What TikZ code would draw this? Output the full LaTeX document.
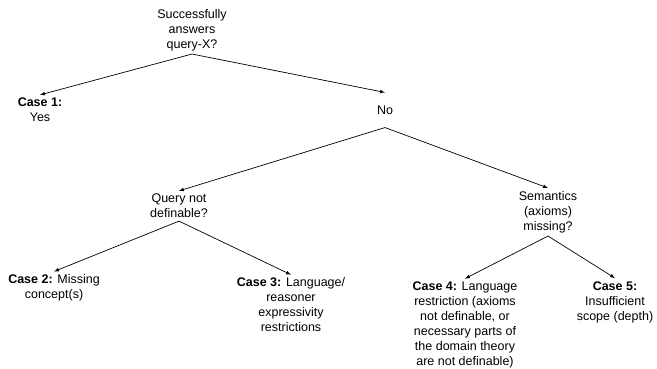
\documentclass[tikz,border=0pt]{standalone}
\usepackage{fontspec}
\setmainfont{Liberation Sans}
\usepackage{tikz}
\usetikzlibrary{
  arrows,
  positioning
}
\tikzset{>=latex}
\tikzset{font=\fontsize{12.5}{15}\selectfont}
\tikzset{question/.style={align=center, inner sep=3pt},
  casebox/.style={align=center, inner sep=3pt},
  branch/.style={->, line width=0.7pt}}

\begin{document}
\begin{tikzpicture}[x=1pt, y=-1pt]
          \useasboundingbox (0,0) rectangle (657,368);
          % questions
          \node[question] (root) at (192,30) {Successfully\\answers\\query-X?};
          \node[question, inner ysep=13pt] (no) at (385,110) {No};
          \node[question] (query) at (179,206) {Query not\\definable?};
          \node[question] (sem) at (548,212) {Semantics\\(axioms)\\missing?};
          % cases
          \node[casebox] (case1) at (40,110) {\textbf{Case 1:}\\Yes};
          \node[casebox] (case2) at (54,288) {\textbf{Case 2:} Missing\\concept(s)};
          \node[casebox] (case3) at (291,305) {\textbf{Case 3:} Language/\\reasoner\\expressivity\\restrictions};
          \node[casebox] (case4) at (465,325) {\textbf{Case 4:} Language\\restriction (axioms\\not definable, or\\necessary parts of\\the domain theory\\are not definable)};
          \node[casebox] (case5) at (615,302) {\textbf{Case 5:}\\Insufficient\\scope (depth)};
          % arrows
          \draw[branch] (root.south) -- (case1.north);
          \draw[branch] (root.south) -- (no.north);
          \draw[branch] (no.south) -- (query.north);
          \draw[branch] (no.south) -- (sem.north);
          \draw[branch] (query.south) -- (case2.north);
          \draw[branch] (query.south) -- (case3.north);
          \draw[branch] (sem.south) -- (case4.north);
          \draw[branch] (sem.south) -- (case5.north);
        \end{tikzpicture}
\end{document}
